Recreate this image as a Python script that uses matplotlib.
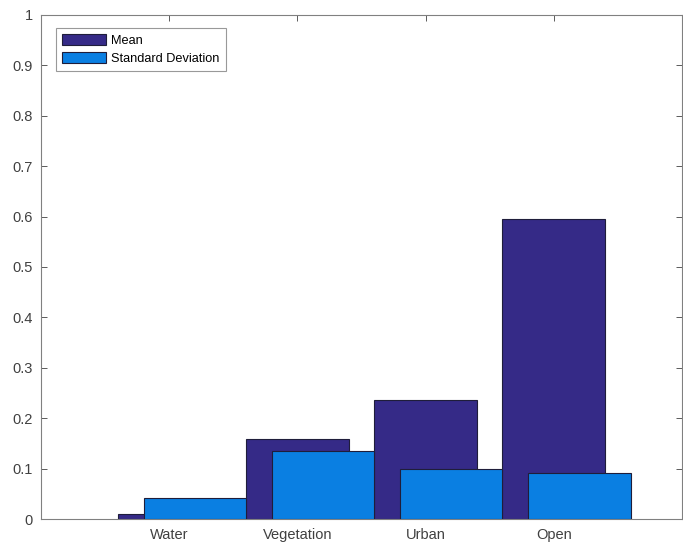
import matplotlib
matplotlib.use('Agg')
import matplotlib.pyplot as plt
import numpy as np

categories = ['Water', 'Vegetation', 'Urban', 'Open']
mean_vals = [0.010, 0.159, 0.236, 0.595]
std_vals = [0.042, 0.135, 0.099, 0.092]
yticks = [0, 0.1, 0.2, 0.3, 0.4, 0.5, 0.6, 0.7, 0.8, 0.9, 1]
ytick_labels = ['0', '0.1', '0.2', '0.3', '0.4', '0.5', '0.6', '0.7', '0.8', '0.9', '1']

plt.rcParams['font.family'] = ['Liberation Sans', 'DejaVu Sans']

fig = plt.figure(figsize=(6.83, 5.42), dpi=100)
ax = fig.add_axes([0.060, 0.0424, 0.9385, 0.930])

x = np.arange(1, len(categories) + 1)
edge = '#1f1d3a'
ax.bar(x, mean_vals, width=0.8, color='#352a87', edgecolor=edge, linewidth=0.8,
       label='Mean', zorder=2)
ax.bar(x + 0.2, std_vals, width=0.8, color='#0a7fe2', edgecolor=edge, linewidth=0.8,
       label='Standard Deviation', zorder=3)

ax.set_xlim(0, 5)
ax.set_ylim(0, 1)
ax.set_xticks(x)
ax.set_xticklabels(categories)
ax.set_yticks(yticks)
ax.set_yticklabels(ytick_labels)
ax.tick_params(direction='in', top=True, right=True, length=4, width=0.6,
               labelsize=10.5, colors='#404040')
ax.tick_params(axis='x', pad=6.5)
ax.tick_params(axis='y', pad=6)
for s in ax.spines.values():
    s.set_color('#808080')
    s.set_linewidth(0.8)

leg = ax.legend(loc='upper left', bbox_to_anchor=(0.023, 0.975), fontsize=9.2,
                frameon=True, fancybox=False, edgecolor='#808080',
                handlelength=3.45, handleheight=1.0, handletextpad=0.4,
                borderpad=0.5, labelspacing=0.35, borderaxespad=0)
leg.get_frame().set_linewidth(0.8)

plt.savefig('out.png', dpi=100)
